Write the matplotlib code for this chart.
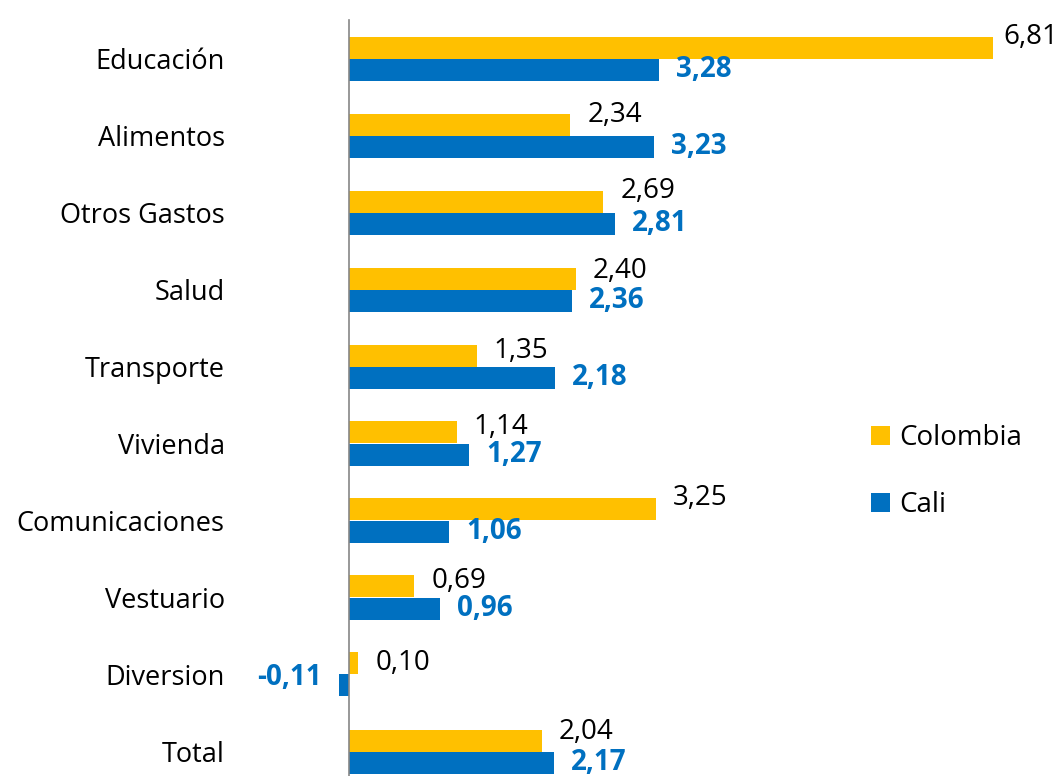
import matplotlib

matplotlib.use("Agg")
import matplotlib.pyplot as plt
import numpy as np

categories = ["Educación", "Alimentos", "Otros Gastos", "Salud", "Transporte",
              "Vivienda", "Comunicaciones", "Vestuario", "Diversion", "Total"]
colombia = [6.81, 2.34, 2.69, 2.40, 1.35, 1.14, 3.25, 0.69, 0.10, 2.04]
cali = [3.28, 3.23, 2.81, 2.36, 2.18, 1.27, 1.06, 0.96, -0.11, 2.17]

YELLOW = "#FFC000"
BLUE = "#0070C0"
FONT = "Open Sans"
FS_CAT = 19.5
FS_VAL = 20

plt.rcParams["font.family"] = [FONT, "DejaVu Sans"]

fig = plt.figure(figsize=(10.62, 7.76), dpi=100)
W, H = 1062, 776
zero_px, unit_px = 349, 94.5
top_px, step_px = 20, 77
ax = fig.add_axes([zero_px / W, (H - (top_px + step_px * 10)) / H,
                   (W - zero_px) / W, step_px * 10 / H])
ax.set_xlim(0, (W - zero_px) / unit_px)
ax.set_ylim(len(categories) - 0.5, -0.5)

y = np.arange(len(categories))
h = 22 / step_px
ax.barh(y - h / 2, colombia, height=h, color=YELLOW, label="Colombia", clip_on=False)
ax.barh(y + h / 2, cali, height=h, color=BLUE, label="Cali", clip_on=False)

# labels in the original were nudged up by hand where they would collide
lift_px = [10, 9, 11, 8, 5, 5, 11, 5, 0, 9]
pad = 17 / unit_px
xmax = ax.get_xlim()[1]
for i, v in enumerate(colombia):
    label = f"{v:.2f}".replace(".", ",")
    yy = i - h / 2 - lift_px[i] / step_px
    if v + pad + 0.7 > xmax:
        ax.text(xmax - 4 / unit_px, yy, label, ha="right",
                va="center", fontsize=FS_VAL, color="black", clip_on=False)
    else:
        ax.text(v + pad, yy, label, ha="left",
                va="center", fontsize=FS_VAL, color="black", clip_on=False)
for i, v in enumerate(cali):
    label = f"{v:.2f}".replace(".", ",")
    if v < 0:
        ax.text(v - pad, i + h / 2 - 0.1, label, ha="right", va="center", fontsize=FS_VAL,
                color=BLUE, fontweight="bold", clip_on=False)
    else:
        ax.text(v + pad, i + h / 2, label, ha="left", va="center", fontsize=FS_VAL,
                color=BLUE, fontweight="bold", clip_on=False)

ax.set_yticks(y, labels=categories, fontsize=FS_CAT)
ax.tick_params(axis="y", length=0, pad=89.5)
ax.set_xticks([])
for side in ("top", "right", "bottom"):
    ax.spines[side].set_visible(False)
ax.spines["left"].set_color("#868686")
ax.spines["left"].set_linewidth(1.2)

ax.legend(loc="upper left",
          bbox_to_anchor=((871 - zero_px) / (W - zero_px), 1 - (424 - top_px) / (step_px * 10)),
          frameon=False, fontsize=FS_VAL, handlelength=0.7, handleheight=0.7,
          handletextpad=0.3, labelspacing=1.42, borderaxespad=0, borderpad=0)

fig.savefig("out.png", dpi=100)
